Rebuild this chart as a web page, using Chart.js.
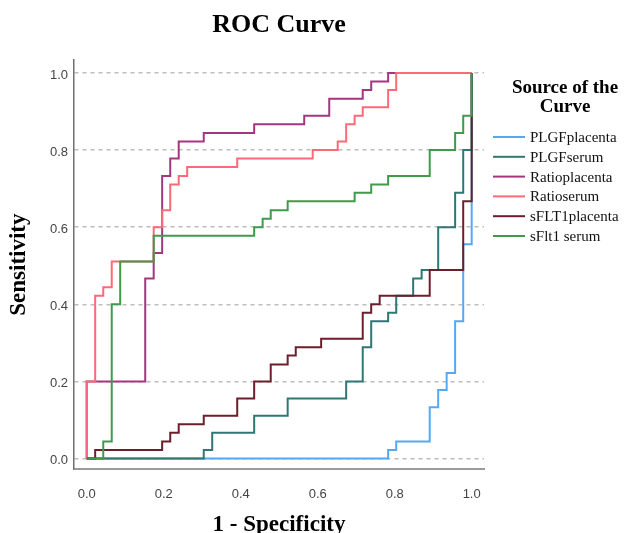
<!DOCTYPE html>
<html>
<head>
<meta charset="utf-8">
<script src="https://cdn.jsdelivr.net/npm/chart.js@4.4.1/dist/chart.umd.min.js"></script>
<style>
  body { margin: 0; background: #fff; }
  canvas { display: block; }
</style>
</head>
<body>
<canvas id="rocChart" width="636" height="533"></canvas>
<script>
// series names, in legend order
var seriesNames = ["PLGFplacenta", "PLGFserum", "Ratioplacenta", "Ratioserum", "sFLT1placenta", "sFlt1 serum"];
var seriesColors = ["#55a8f2", "#2f7675", "#a3367f", "#fa6a78", "#6c1e2a", "#3f9a4c"];

// corner points of each step curve (1 - specificity, sensitivity)
var plgfPlacentaX = [0, 0.783, 0.804, 0.891, 0.913, 0.935, 0.957, 0.978, 1];
var plgfPlacentaY = [0, 0.022, 0.044, 0.133, 0.178, 0.222, 0.356, 0.556, 1];

var plgfSerumX = [0, 0.304, 0.326, 0.435, 0.522, 0.674, 0.717, 0.739, 0.783, 0.804, 0.848, 0.870, 0.913, 0.957, 0.978, 1];
var plgfSerumY = [0, 0.022, 0.067, 0.111, 0.156, 0.200, 0.289, 0.356, 0.378, 0.422, 0.467, 0.489, 0.600, 0.689, 0.800, 1];

var ratioPlacentaX = [0, 0, 0.152, 0.174, 0.196, 0.217, 0.239, 0.304, 0.435, 0.565, 0.630, 0.717, 0.739, 0.783, 1];
var ratioPlacentaY = [0, 0.2, 0.467, 0.533, 0.733, 0.778, 0.822, 0.844, 0.867, 0.889, 0.933, 0.956, 0.978, 1, 1];

var ratioSerumX = [0, 0, 0.022, 0.043, 0.065, 0.174, 0.196, 0.217, 0.239, 0.261, 0.391, 0.587, 0.652, 0.674, 0.696, 0.717, 0.783, 0.804, 1];
var ratioSerumY = [0, 0.2, 0.422, 0.444, 0.511, 0.600, 0.644, 0.711, 0.733, 0.756, 0.778, 0.800, 0.822, 0.867, 0.889, 0.911, 0.956, 1, 1];

var sflt1PlacentaX = [0, 0.022, 0.196, 0.217, 0.239, 0.304, 0.391, 0.435, 0.478, 0.522, 0.543, 0.609, 0.717, 0.739, 0.761, 0.891, 0.978, 1];
var sflt1PlacentaY = [0, 0.022, 0.044, 0.067, 0.089, 0.111, 0.156, 0.200, 0.244, 0.267, 0.289, 0.311, 0.378, 0.400, 0.422, 0.489, 0.667, 1];

var sflt1SerumX = [0, 0.043, 0.065, 0.087, 0.174, 0.435, 0.457, 0.478, 0.522, 0.696, 0.739, 0.783, 0.891, 0.957, 0.978, 1];
var sflt1SerumY = [0, 0.044, 0.400, 0.511, 0.578, 0.600, 0.622, 0.644, 0.667, 0.689, 0.711, 0.733, 0.800, 0.844, 0.889, 1];

var tickValues = [0, 0.2, 0.4, 0.6, 0.8, 1.0];

var allX = [plgfPlacentaX, plgfSerumX, ratioPlacentaX, ratioSerumX, sflt1PlacentaX, sflt1SerumX];
var allY = [plgfPlacentaY, plgfSerumY, ratioPlacentaY, ratioSerumY, sflt1PlacentaY, sflt1SerumY];

function toPoints(xs, ys) {
    var pts = [];
    for (var i = 0; i < xs.length; i++) {
        pts.push({ x: xs[i], y: ys[i] });
    }
    return pts;
}

var datasets = [];
for (var i = 0; i < seriesNames.length; i++) {
    datasets.push({
        label: seriesNames[i],
        data: toPoints(allX[i], allY[i]),
        borderColor: seriesColors[i],
        backgroundColor: seriesColors[i],
        borderWidth: 2,
        pointRadius: 0,
        fill: false,
        stepped: 'before',
        // last series on top, like the original
        order: seriesNames.length - 1 - i
    });
}

// legend drawn on the right, with a two line title
var sideLegend = {
    id: 'sideLegend',
    afterDraw: function (chart) {
        var ctx = chart.ctx;
        ctx.save();
        ctx.fillStyle = '#000';
        ctx.textAlign = 'center';
        ctx.textBaseline = 'middle';
        ctx.font = 'bold 19px "Liberation Serif"';
        ctx.fillText('Source of the', 565, 88);
        ctx.fillText('Curve', 565, 107);

        ctx.font = '15px "Liberation Serif"';
        ctx.textAlign = 'left';
        for (var i = 0; i < seriesNames.length; i++) {
            var y = 137 + i * 19.8;
            ctx.strokeStyle = seriesColors[i];
            ctx.lineWidth = 2;
            ctx.beginPath();
            ctx.moveTo(493, y);
            ctx.lineTo(525, y);
            ctx.stroke();
            ctx.fillStyle = '#111';
            ctx.fillText(seriesNames[i], 530, y + 1);
        }
        ctx.restore();
    }
};

var ctx = document.getElementById("rocChart");
var rocChart = new Chart(ctx, {
    type: 'line',
    data: { datasets: datasets },
    plugins: [sideLegend],
    options: {
        responsive: false,
        animation: false,
        layout: { padding: { left: 0, right: 152, top: 0, bottom: 0 } },
        plugins: {
            legend: { display: false },
            tooltip: { enabled: false },
            title: {
                display: true,
                text: 'ROC Curve',
                fullSize: false,
                color: '#000',
                font: { family: '"Liberation Serif"', size: 26, weight: 'bold', lineHeight: 1.2 },
                padding: { top: 10, bottom: 19 }
            }
        },
        scales: {
            x: {
                type: 'linear',
                min: -0.033,
                max: 1.032,
                afterBuildTicks: function (axis) {
                    axis.ticks = tickValues.map(function (v) { return { value: v }; });
                },
                afterFit: function (scale) { scale.height = 64; },
                grid: { display: false, drawTicks: false },
                border: { display: true, color: '#9a9a9a', width: 2 },
                ticks: {
                    padding: 18,
                    color: '#444',
                    font: { family: '"Liberation Sans"', size: 13 },
                    callback: function (v) { return v.toFixed(1); }
                },
                title: {
                    display: true,
                    text: '1 - Specificity',
                    color: '#000',
                    padding: 0,
                    font: { family: '"Liberation Serif"', size: 23, weight: 'bold', lineHeight: 0.7 }
                }
            },
            y: {
                type: 'linear',
                min: -0.027,
                max: 1.033,
                afterBuildTicks: function (axis) {
                    axis.ticks = tickValues.map(function (v) { return { value: v }; });
                },
                afterFit: function (scale) { scale.width = 74; },
                grid: { color: '#bdbdbd', lineWidth: 1.5, drawTicks: false },
                border: { display: true, color: '#707070', width: 1.5, dash: [4, 4] },
                ticks: {
                    padding: 6,
                    labelOffset: 2,
                    color: '#444',
                    font: { family: '"Liberation Sans"', size: 13 },
                    callback: function (v) { return v.toFixed(1); }
                },
                title: {
                    display: true,
                    text: 'Sensitivity',
                    color: '#000',
                    padding: { top: 5, bottom: 0 },
                    font: { family: '"Liberation Serif"', size: 23, weight: 'bold', lineHeight: 1.2 }
                }
            }
        }
    }
});
</script>
</body>
</html>
